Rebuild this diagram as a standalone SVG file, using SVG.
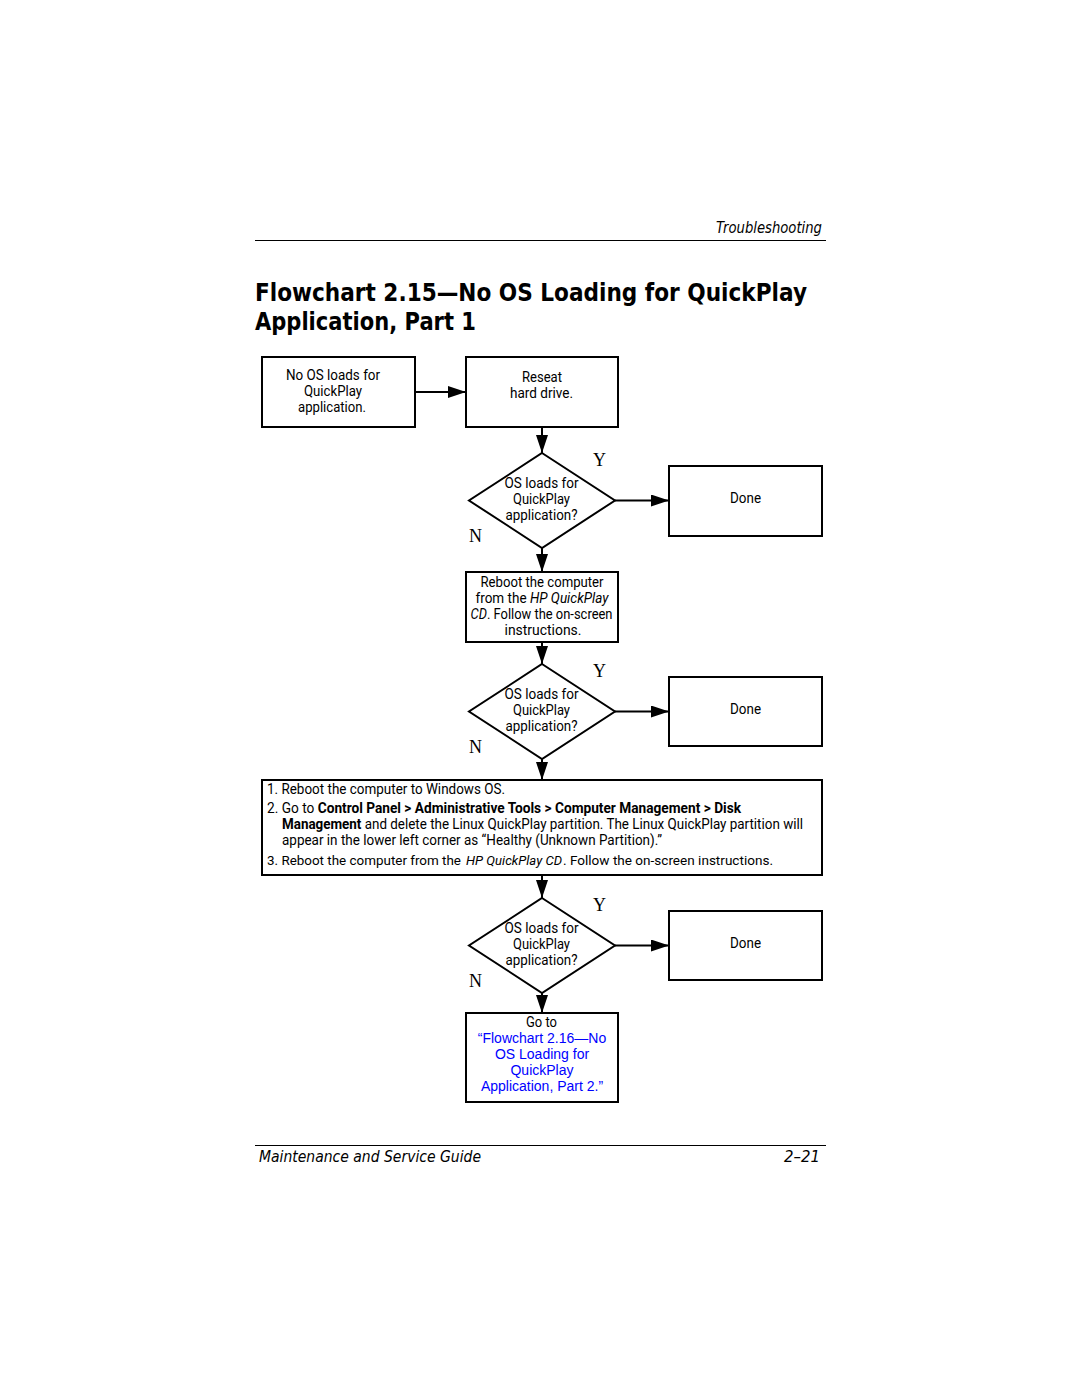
<svg xmlns="http://www.w3.org/2000/svg" width="1080" height="1397" viewBox="0 0 1080 1397">
<style>
.bg{fill:#fff}
.box{fill:#fff;stroke:#000;stroke-width:2}
.rule{stroke:#000;stroke-width:1.2}
.conn{stroke:#000;stroke-width:2;fill:none}
.t{font-family:"Roboto","Liberation Sans",sans-serif;font-size:14.5px;fill:#000;text-anchor:middle}
.tl{font-family:"Roboto","Liberation Sans",sans-serif;font-size:14.5px;fill:#000}
.ts{font-size:13.1px}
.link{font-family:"Liberation Sans",Arial,sans-serif;font-size:14px;fill:#0000ff;text-anchor:middle}
.yn{font-family:"Liberation Serif","Times New Roman",serif;font-size:18px;fill:#000}
.hdr{font-family:"DejaVu Sans","Liberation Sans",sans-serif;font-style:italic;font-size:15px;fill:#000}
.title{font-family:"DejaVu Sans","Liberation Sans",sans-serif;font-weight:bold;font-size:24px;fill:#000}
</style>
<defs>
<marker id="ah" markerWidth="18" markerHeight="12" refX="18" refY="6" orient="auto" markerUnits="userSpaceOnUse">
<path d="M0,0 L18,6 L0,12 Z" fill="#000"/>
</marker>
</defs>
<rect class="bg" x="0" y="0" width="1080" height="1397"/>

<g id="page-header">
<text class="hdr" x="716" y="233" textLength="106" lengthAdjust="spacingAndGlyphs">Troubleshooting</text>
<line class="rule" x1="255" y1="240.5" x2="826" y2="240.5"/>
<text class="title" x="255" y="301" textLength="552" lengthAdjust="spacingAndGlyphs">Flowchart 2.15—No OS Loading for QuickPlay</text>
<text class="title" x="255" y="330" textLength="221" lengthAdjust="spacingAndGlyphs">Application, Part 1</text>
</g>

<g id="connectors">
<line class="conn" x1="415" y1="392" x2="466" y2="392" marker-end="url(#ah)"/>
<line class="conn" x1="542" y1="427" x2="542" y2="453" marker-end="url(#ah)"/>
<line class="conn" x1="615" y1="500.5" x2="669" y2="500.5" marker-end="url(#ah)"/>
<line class="conn" x1="542" y1="548" x2="542" y2="572" marker-end="url(#ah)"/>
<line class="conn" x1="542" y1="642" x2="542" y2="664" marker-end="url(#ah)"/>
<line class="conn" x1="615" y1="711.5" x2="669" y2="711.5" marker-end="url(#ah)"/>
<line class="conn" x1="542" y1="759" x2="542" y2="780" marker-end="url(#ah)"/>
<line class="conn" x1="542" y1="875" x2="542" y2="898" marker-end="url(#ah)"/>
<line class="conn" x1="615" y1="945.5" x2="669" y2="945.5" marker-end="url(#ah)"/>
<line class="conn" x1="542" y1="993" x2="542" y2="1013" marker-end="url(#ah)"/>
<text class="yn" x="593" y="466">Y</text>
<text class="yn" x="469" y="542">N</text>
<text class="yn" x="593" y="677">Y</text>
<text class="yn" x="469" y="753">N</text>
<text class="yn" x="593" y="911">Y</text>
<text class="yn" x="469" y="987">N</text>
</g>

<g id="start">
<rect class="box" x="262" y="357" width="153" height="70"/>
<text class="t" x="333" y="380" textLength="94" lengthAdjust="spacingAndGlyphs">No OS loads for</text>
<text class="t" x="333" y="396" textLength="58" lengthAdjust="spacingAndGlyphs">QuickPlay</text>
<text class="t" x="332" y="412" textLength="68" lengthAdjust="spacingAndGlyphs">application.</text>
</g>

<g id="reseat">
<rect class="box" x="466" y="357" width="152" height="70"/>
<text class="t" x="542" y="382" textLength="40" lengthAdjust="spacingAndGlyphs">Reseat</text>
<text class="t" x="541.5" y="398" textLength="63" lengthAdjust="spacingAndGlyphs">hard drive.</text>
</g>

<g id="decision1">
<polygon class="box" points="542,453 615,500.5 542,548 469,500.5"/>
<text class="t" x="541.5" y="488" textLength="74" lengthAdjust="spacingAndGlyphs">OS loads for</text>
<text class="t" x="541.5" y="504" textLength="57" lengthAdjust="spacingAndGlyphs">QuickPlay</text>
<text class="t" x="541.5" y="520" textLength="72" lengthAdjust="spacingAndGlyphs">application?</text>
</g>

<g id="done1">
<rect class="box" x="669" y="466" width="153" height="70"/>
<text class="t" x="745.5" y="503" textLength="31" lengthAdjust="spacingAndGlyphs">Done</text>
</g>

<g id="reboot-cd">
<rect class="box" x="466" y="572" width="152" height="70"/>
<text class="t" x="542" y="587" textLength="123" lengthAdjust="spacingAndGlyphs">Reboot the computer</text>
<text class="t" x="542" y="603" textLength="133" lengthAdjust="spacingAndGlyphs">from the <tspan font-style="italic">HP QuickPlay</tspan></text>
<text class="t" x="541.5" y="619" textLength="142" lengthAdjust="spacingAndGlyphs"><tspan font-style="italic">CD</tspan>. Follow the on-screen</text>
<text class="t" x="543" y="635" textLength="77" lengthAdjust="spacingAndGlyphs">instructions.</text>
</g>

<g id="decision2">
<polygon class="box" points="542,664 615,711.5 542,759 469,711.5"/>
<text class="t" x="541.5" y="699" textLength="74" lengthAdjust="spacingAndGlyphs">OS loads for</text>
<text class="t" x="541.5" y="715" textLength="57" lengthAdjust="spacingAndGlyphs">QuickPlay</text>
<text class="t" x="541.5" y="731" textLength="72" lengthAdjust="spacingAndGlyphs">application?</text>
</g>

<g id="done2">
<rect class="box" x="669" y="677" width="153" height="69"/>
<text class="t" x="745.5" y="714" textLength="31" lengthAdjust="spacingAndGlyphs">Done</text>
</g>

<g id="steps">
<rect class="box" x="262" y="780" width="560" height="95"/>
<text class="tl" x="267" y="794" textLength="238" lengthAdjust="spacingAndGlyphs">1. Reboot the computer to Windows OS.</text>
<text class="tl" x="267" y="813" textLength="474" lengthAdjust="spacingAndGlyphs">2. Go to <tspan font-weight="bold">Control Panel &gt; Administrative Tools &gt; Computer Management &gt; Disk</tspan></text>
<text class="tl" x="282" y="829" textLength="521" lengthAdjust="spacingAndGlyphs"><tspan font-weight="bold">Management</tspan> and delete the Linux QuickPlay partition. The Linux QuickPlay partition will</text>
<text class="tl" x="282" y="845" textLength="380" lengthAdjust="spacingAndGlyphs">appear in the lower left corner as “Healthy (Unknown Partition).”</text>
<text class="tl ts" x="267" y="865" textLength="194" lengthAdjust="spacingAndGlyphs">3. Reboot the computer from the</text>
<text class="tl ts" x="466" y="865" textLength="96" lengthAdjust="spacingAndGlyphs" font-style="italic">HP QuickPlay CD</text>
<text class="tl ts" x="563" y="865" textLength="210" lengthAdjust="spacingAndGlyphs">. Follow the on-screen instructions.</text>
</g>

<g id="decision3">
<polygon class="box" points="542,898 615,945.5 542,993 469,945.5"/>
<text class="t" x="541.5" y="933" textLength="74" lengthAdjust="spacingAndGlyphs">OS loads for</text>
<text class="t" x="541.5" y="949" textLength="57" lengthAdjust="spacingAndGlyphs">QuickPlay</text>
<text class="t" x="541.5" y="965" textLength="72" lengthAdjust="spacingAndGlyphs">application?</text>
</g>

<g id="done3">
<rect class="box" x="669" y="911" width="153" height="69"/>
<text class="t" x="745.5" y="948" textLength="31" lengthAdjust="spacingAndGlyphs">Done</text>
</g>

<g id="goto-part2">
<rect class="box" x="466" y="1013" width="152" height="89"/>
<text class="t" x="541.5" y="1027" textLength="31" lengthAdjust="spacingAndGlyphs">Go to</text>
<text class="link" x="542" y="1043">“Flowchart 2.16—No</text>
<text class="link" x="542" y="1059">OS Loading for</text>
<text class="link" x="542" y="1075">QuickPlay</text>
<text class="link" x="542" y="1091">Application, Part 2.”</text>
</g>

<g id="page-footer">
<line class="rule" x1="255" y1="1145.5" x2="826" y2="1145.5"/>
<text class="hdr" x="259" y="1162" textLength="222" lengthAdjust="spacingAndGlyphs">Maintenance and Service Guide</text>
<text class="hdr" x="784" y="1162" textLength="36" lengthAdjust="spacingAndGlyphs">2–21</text>
</g>
</svg>
